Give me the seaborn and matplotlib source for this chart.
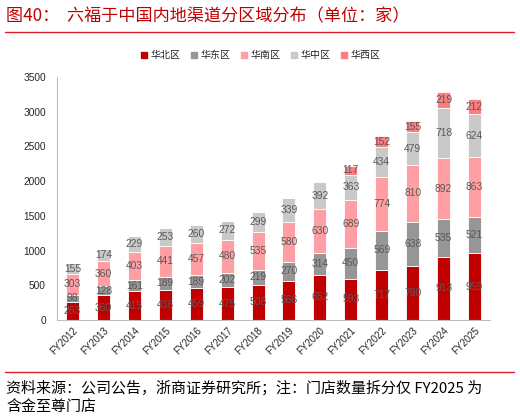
import numpy as np
import pandas as pd
import seaborn as sns
import matplotlib.pyplot as plt
from matplotlib.lines import Line2D

years = ["FY2012", "FY2013", "FY2014", "FY2015", "FY2016", "FY2017", "FY2018",
         "FY2019", "FY2020", "FY2021", "FY2022", "FY2023", "FY2024", "FY2025"]
north = [263, 360, 415, 436, 459, 475, 508, 566, 652, 593, 717, 780, 913, 959]
east = [98, 128, 161, 189, 189, 202, 219, 270, 314, 450, 569, 638, 535, 521]
south = [303, 360, 403, 441, 457, 480, 535, 580, 630, 689, 774, 810, 892, 863]
central = [155, 174, 229, 253, 260, 272, 299, 339, 392, 363, 434, 479, 718, 624]
west = [0, 0, 0, 0, 0, 0, 0, 0, 0, 117, 152, 155, 219, 212]

regions = ["华北区", "华东区", "华南区", "华中区", "华西区"]
colors = ["#C00000", "#969696", "#FF9EA3", "#C9C9C9", "#FF7C80"]

df = pd.DataFrame({"year": years, "华北区": north, "华东区": east,
                   "华南区": south, "华中区": central, "华西区": west})

sns.set_style("white")
plt.rcParams["font.family"] = ["Noto Sans CJK SC", "DejaVu Sans"]

fig = plt.figure(figsize=(5.2, 4.18), dpi=100)
ax = fig.add_axes([0.1096, 0.2344, 0.8327, 0.5814])

# stack the regions one on top of the other
bottom = np.zeros(len(years))
for reg, col in zip(regions, colors):
    sns.barplot(data=df, x="year", y=reg, color=col, width=0.42, bottom=bottom,
                ax=ax, edgecolor="white", linewidth=0.6, saturation=1)
    cont = ax.containers[-1]
    labels = [str(v) if v > 0 else "" for v in df[reg]]
    ax.bar_label(cont, labels=labels, label_type="center", fontsize=7.4,
                 color="#595959", family="Liberation Sans")
    bottom = bottom + df[reg].values

ax.set_ylim(0, 3500)
ax.set_yticks(range(0, 3501, 500))
ax.set_xlim(-0.5, len(years) - 0.5)
ax.set_xlabel("")
ax.set_ylabel("")
ax.tick_params(axis="y", labelsize=7.3, length=0, pad=8)
ax.set_yticklabels([str(v) for v in range(0, 3501, 500)], family="Liberation Sans")
ax.set_xticks(range(len(years)))
ax.set_xticklabels(years, rotation=45, ha="right", rotation_mode="anchor",
                   fontsize=7, family="Liberation Sans")
ax.tick_params(axis="x", length=0, pad=4)
ax.set_xticks(np.arange(-0.5, len(years)), minor=True)
ax.tick_params(axis="x", which="minor", length=3.5, color="#BFBFBF", width=0.8)
sns.despine(ax=ax)
for s in ["left", "bottom"]:
    ax.spines[s].set_color("#BFBFBF")
    ax.spines[s].set_linewidth(0.8)

handles = [Line2D([], [], marker="s", linestyle="", color=c, markersize=4)
           for c in colors]
ax.legend(handles, regions, loc="center", bbox_to_anchor=(0.469, 1.09),
          ncol=5, frameon=False, fontsize=7.2, handletextpad=0.2,
          handlelength=0.8, columnspacing=1.0, borderaxespad=0)

fig.text(0.012, 0.962, "图40：  六福于中国内地渠道分区域分布（单位：家）",
         color="#C00000", fontsize=12.3, va="center", ha="left")
fig.add_artist(Line2D([0.01, 0.988], [0.923, 0.923], color="#D9202A", linewidth=1.0))
fig.add_artist(Line2D([0.01, 0.988], [0.11, 0.11], color="#D9202A", linewidth=1.0))
fig.text(0.012, 0.072, "资料来源：公司公告，浙商证券研究所；注：门店数量拆分仅 FY2025 为",
         fontsize=10.8, va="center", ha="left", color="#000000")
fig.text(0.012, 0.024, "含金至尊门店", fontsize=10.8, va="center", ha="left",
         color="#000000")

fig.savefig("out.png", dpi=100)
